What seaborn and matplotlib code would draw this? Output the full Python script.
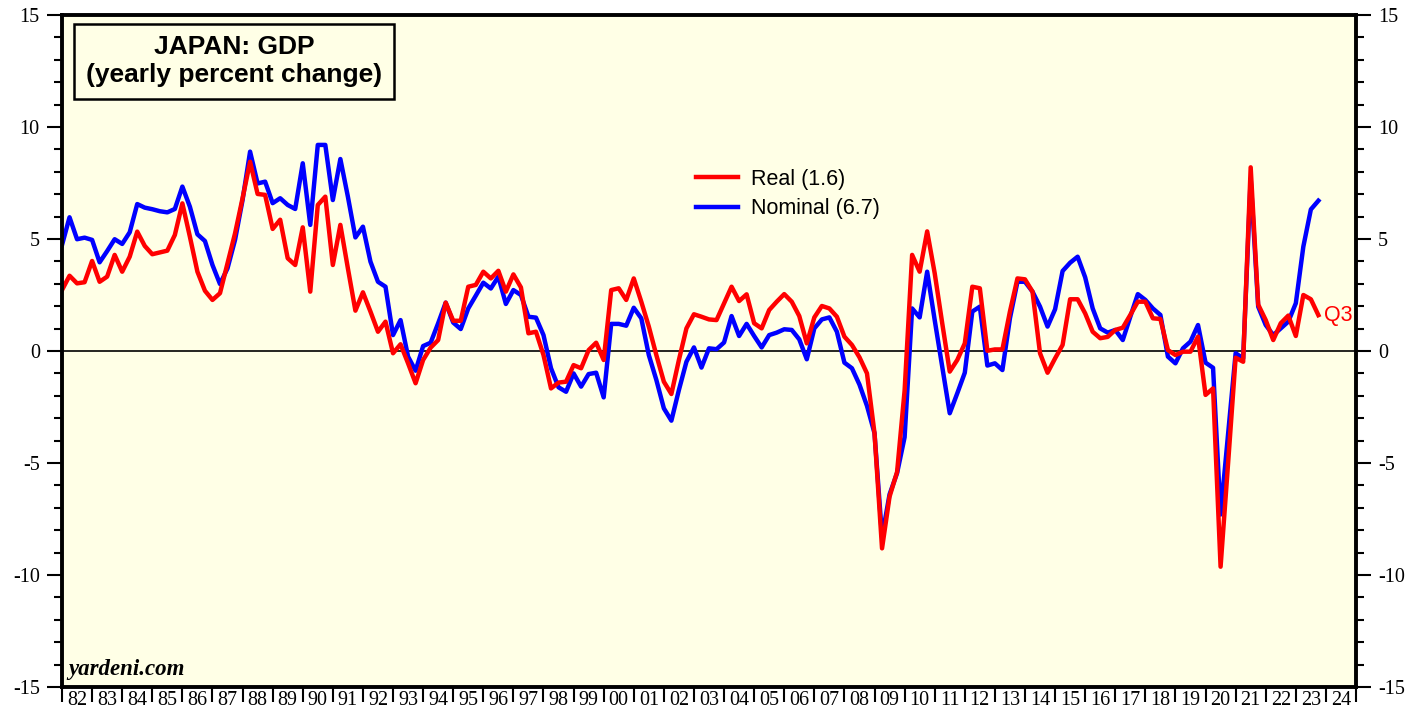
import numpy as np
import pandas as pd
import seaborn as sns
import matplotlib.pyplot as plt
from matplotlib.ticker import MultipleLocator, FixedLocator

plt.rcParams['axes.unicode_minus'] = False

# quarterly data, 1981Q4 .. 2023Q3 (yearly percent change)
quarters = pd.period_range('1981Q4', '2023Q3', freq='Q')

real = [2.72, 3.36, 3.02, 3.07, 4.02, 3.09, 3.32, 4.29, 3.54, 4.21,
        5.33, 4.69, 4.32, 4.40, 4.48, 5.18, 6.59, 5.10, 3.54, 2.69,
        2.28, 2.58, 3.91, 5.25, 6.82, 8.45, 7.01, 6.97, 5.45, 5.86,
        4.14, 3.84, 5.52, 2.65, 6.52, 6.89, 3.84, 5.63, 3.69, 1.80,
        2.62, 1.76, 0.86, 1.31, -0.10, 0.30, -0.55, -1.44, -0.40, 0.15,
        0.49, 2.16, 1.35, 1.35, 2.87, 2.95, 3.54, 3.24, 3.58, 2.65,
        3.42, 2.84, 0.79, 0.86, -0.18, -1.67, -1.41, -1.37, -0.63, -0.77,
        0.04, 0.37, -0.40, 2.72, 2.80, 2.28, 3.24, 2.20, 1.09, -0.18,
        -1.37, -1.92, -0.40, 1.01, 1.64, 1.53, 1.41, 1.38, 2.12, 2.87,
        2.23, 2.53, 1.24, 1.01, 1.83, 2.20, 2.54, 2.20, 1.56, 0.34,
        1.50, 2.01, 1.90, 1.53, 0.64, 0.27, -0.28, -1.00, -3.67, -8.81,
        -6.50, -5.40, -1.77, 4.29, 3.54, 5.34, 3.47, 1.24, -0.92, -0.40,
        0.34, 2.87, 2.80, 0.01, 0.07, 0.07, 1.76, 3.24, 3.20, 2.65,
        -0.10, -0.97, -0.33, 0.27, 2.31, 2.31, 1.68, 0.86, 0.57, 0.63,
        0.94, 1.04, 1.61, 2.20, 2.20, 1.46, 1.43, 0.04, -0.18, -0.03,
        -0.03, 0.64, -1.96, -1.67, -9.63, -5.00, -0.30, -0.48, 8.20, 2.07,
        1.38, 0.49, 1.24, 1.58, 0.67, 2.50, 2.31, 1.60]

nominal = [4.73, 5.97, 4.99, 5.06, 4.96, 3.96, 4.46, 4.99, 4.78, 5.30,
           6.56, 6.40, 6.33, 6.24, 6.19, 6.34, 7.34, 6.44, 5.21, 4.91,
           3.84, 2.99, 3.69, 4.96, 6.74, 8.90, 7.48, 7.56, 6.60, 6.82,
           6.52, 6.34, 8.38, 5.63, 9.20, 9.20, 6.74, 8.57, 6.89, 5.07,
           5.55, 3.99, 3.09, 2.87, 0.71, 1.38, -0.25, -0.88, 0.22, 0.37,
           1.24, 2.16, 1.27, 0.98, 1.90, 2.47, 3.05, 2.79, 3.32, 2.10,
           2.72, 2.50, 1.53, 1.49, 0.71, -0.77, -1.62, -1.82, -1.00, -1.59,
           -1.03, -0.97, -2.07, 1.21, 1.21, 1.13, 1.93, 1.46, -0.18, -1.29,
           -2.56, -3.11, -1.74, -0.48, 0.16, -0.74, 0.12, 0.08, 0.38, 1.56,
           0.67, 1.21, 0.67, 0.16, 0.71, 0.82, 0.97, 0.94, 0.52, -0.37,
           1.01, 1.41, 1.50, 0.86, -0.52, -0.77, -1.50, -2.45, -3.67, -8.30,
           -6.40, -5.45, -3.85, 1.90, 1.50, 3.54, 1.38, -0.70, -2.78, -1.89,
           -0.97, 1.76, 1.98, -0.65, -0.55, -0.85, 1.46, 3.09, 3.09, 2.65,
           1.98, 1.09, 1.86, 3.57, 3.94, 4.21, 3.29, 1.90, 1.01, 0.82,
           0.94, 0.49, 1.53, 2.54, 2.28, 1.90, 1.61, -0.25, -0.55, 0.12,
           0.42, 1.16, -0.52, -0.75, -7.30, -3.70, -0.10, -0.33, 7.70, 1.98,
           1.16, 0.71, 1.01, 1.31, 2.13, 4.66, 6.32, 6.71]

year_labels = ['%02d' % (y % 100) for y in range(1982, 2025)]

# each quarter is drawn at its end
xpos = [p.year + p.quarter / 4 for p in quarters]
df = pd.DataFrame({'date': xpos * 2,
                   'value': real + nominal,
                   'series': ['Real (1.6)'] * len(real) + ['Nominal (6.7)'] * len(nominal)})

fig = plt.figure(figsize=(14.28, 7.19), dpi=100)
ax = fig.add_axes([62 / 1428, 1 - 687 / 719, 1294 / 1428, 672 / 719])
ax.set_facecolor('#FFFFE6')

sns.lineplot(data=df, x='date', y='value', hue='series',
             palette={'Real (1.6)': '#FF0000', 'Nominal (6.7)': '#0000FF'},
             hue_order=['Nominal (6.7)', 'Real (1.6)'],
             linewidth=3.2, ax=ax, legend=False)
ax.axhline(0, color='black', lw=1.2, zorder=1)

ax.set_xlim(1982, 2025)
ax.set_ylim(-15, 15)
ax.set_xlabel('')
ax.set_ylabel('')

for s in ax.spines.values():
    s.set_linewidth(2.8)

# y axis on both sides
ax.yaxis.set_major_locator(MultipleLocator(5))
ax.yaxis.set_minor_locator(MultipleLocator(1))
ax.tick_params(axis='y', which='both', direction='out', left=True, right=True,
               labelleft=True, labelright=True, width=1.5, labelsize=14.5, pad=5)
ax.tick_params(axis='y', which='major', length=11)
ax.tick_params(axis='y', which='minor', length=6)

# x axis: ticks on year boundaries, labels in the middle
ax.xaxis.set_major_locator(FixedLocator(range(1982, 2026)))
ax.xaxis.set_minor_locator(FixedLocator([y + 0.5 for y in range(1982, 2025)]))
ax.xaxis.set_major_formatter(plt.NullFormatter())
ax.xaxis.set_minor_formatter(plt.FixedFormatter(year_labels))
ax.tick_params(axis='x', which='major', direction='out', length=11, width=1.5)
ax.tick_params(axis='x', which='minor', length=0, labelsize=14.5, pad=3)

for lab in ax.xaxis.get_ticklabels(which='both') + ax.yaxis.get_ticklabels(which='both'):
    lab.set_family('Liberation Serif')

# title box
ax.text(0.133, 0.931, 'JAPAN: GDP\n(yearly percent change)', transform=ax.transAxes,
        ha='center', va='center', fontsize=19, fontweight='bold',
        family='Liberation Sans', linespacing=1.2,
        bbox=dict(boxstyle='square,pad=0.45', fc='#FFFFE6', ec='black', lw=1.8))

# legend
ax.plot([], [], color='#FF0000', lw=3.2, label='Real (1.6)')
ax.plot([], [], color='#0000FF', lw=3.2, label='Nominal (6.7)')
h, l = ax.get_legend_handles_labels()
ax.legend(h[-2:], l[-2:], loc='upper left', bbox_to_anchor=(0.475, 0.80), frameon=False,
          prop={'family': 'Liberation Sans', 'size': 15.5}, handlelength=1.95,
          handletextpad=0.6, labelspacing=0.4)

ax.text(xpos[-1] + 0.2, real[-1], 'Q3', color='#FF0000', fontsize=15.5,
        family='Liberation Sans', va='center', ha='left')

ax.text(0.005, 0.01, 'yardeni.com', transform=ax.transAxes, fontsize=16.5,
        fontweight='bold', fontstyle='italic', family='Liberation Serif',
        ha='left', va='bottom')

fig.savefig('out.png', dpi=100)
